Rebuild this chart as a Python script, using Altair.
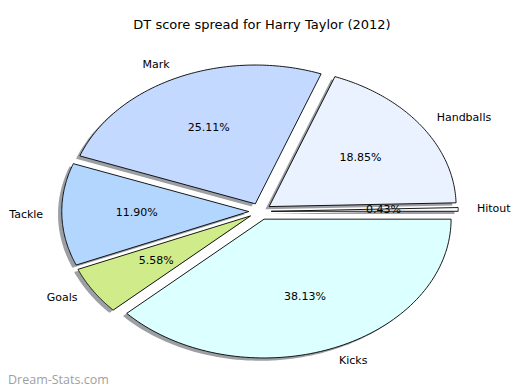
import altair as alt
import pandas as pd

# Data (counter-clockwise from 3 o'clock, as drawn)
categories = ["Hitout", "Handballs", "Mark", "Tackle", "Goals", "Kicks"]
shares = [0.43, 18.85, 25.11, 11.90, 5.58, 38.13]
colors = ["#ffffff", "#ebf2ff", "#c4d9ff", "#b3d6ff", "#cfeb8a", "#dcffff"]

TITLE = "DT score spread for Harry Taylor (2012)"
WATERMARK = "Dream-Stats.com"

EXPLODE = 0.06
NPTS = 90
W, H = 504, 382
XDOM = [-1.3476, 1.3476]
YDOM = [-1.2867, 1.4654]

df = pd.DataFrame({"cat": categories, "value": shares, "ord": list(range(len(categories)))})

xs = alt.Scale(domain=XDOM, nice=False, zero=False)
ys = alt.Scale(domain=YDOM, nice=False, zero=False)
noax = None

base = alt.Chart(df).transform_window(
    cum="sum(value)", sort=[alt.SortField("ord")], frame=[None, 0]
).transform_joinaggregate(total="sum(value)").transform_calculate(
    a0="2*PI*(datum.cum - datum.value)/datum.total",
    a1="2*PI*datum.cum/datum.total",
).transform_calculate(
    am="(datum.a0 + datum.a1)/2",
).transform_calculate(
    ox=f"{EXPLODE}*cos(datum.am)",
    oy=f"{EXPLODE}*sin(datum.am)",
    pct="format(datum.value, '.2f') + '%'",
)

poly = base.transform_calculate(
    idx=f"sequence(0, {NPTS + 2})"
).transform_flatten(["idx"]).transform_calculate(
    ang=f"datum.a0 + (datum.a1 - datum.a0)*(datum.idx - 1)/({NPTS} - 1)",
).transform_calculate(
    px=f"(datum.idx == 0 || datum.idx == {NPTS + 1}) ? datum.ox : datum.ox + cos(datum.ang)",
    py=f"(datum.idx == 0 || datum.idx == {NPTS + 1}) ? datum.oy : datum.oy + sin(datum.ang)",
).transform_calculate(
    sx="datum.px - 0.02",
    sy="datum.py - 0.02",
)

shadow = poly.mark_line(strokeWidth=0, interpolate="linear").encode(
    x=alt.X("sx:Q", scale=xs, axis=noax),
    y=alt.Y("sy:Q", scale=ys, axis=noax),
    order=alt.Order("idx:Q"),
    detail="cat:N",
    fill=alt.value("#3a3f47"),
    fillOpacity=alt.value(0.5),
)

wedges = poly.mark_line(stroke="black", strokeWidth=0.9, strokeJoin="miter").encode(
    x=alt.X("px:Q", scale=xs, axis=noax),
    y=alt.Y("py:Q", scale=ys, axis=noax),
    order=alt.Order("idx:Q"),
    detail="cat:N",
    fill=alt.Fill("cat:N", scale=alt.Scale(domain=categories, range=colors), legend=None),
    stroke=alt.value("black"),
)

lab = base.transform_calculate(
    lx="datum.ox + 1.1*cos(datum.am)",
    ly="datum.oy + 1.1*sin(datum.am)",
    tx="datum.ox + 0.6*cos(datum.am)",
    ty="datum.oy + 0.6*sin(datum.am)",
)

font = "DejaVu Sans"
lab_right = lab.transform_filter("datum.lx > 0").mark_text(
    align="left", baseline="middle", font=font, fontSize=11, color="black"
).encode(x=alt.X("lx:Q", scale=xs, axis=noax), y=alt.Y("ly:Q", scale=ys, axis=noax), text="cat:N")
lab_left = lab.transform_filter("datum.lx <= 0").mark_text(
    align="right", baseline="middle", font=font, fontSize=11, color="black"
).encode(x=alt.X("lx:Q", scale=xs, axis=noax), y=alt.Y("ly:Q", scale=ys, axis=noax), text="cat:N")
pcts = lab.mark_text(
    align="center", baseline="middle", font=font, fontSize=11, color="black"
).encode(x=alt.X("tx:Q", scale=xs, axis=noax), y=alt.Y("ty:Q", scale=ys, axis=noax), text="pct:N")

title = alt.Chart(pd.DataFrame({"t": [TITLE]})).mark_text(
    align="center", baseline="middle", font=font, fontSize=13, color="black"
).encode(x=alt.value(W / 2 + 2), y=alt.value(17), text="t:N")

wm = alt.Chart(pd.DataFrame({"t": [WATERMARK]})).mark_text(
    align="left", baseline="middle", font="Open Sans", fontSize=12.5, color="#a0a0a0"
).encode(x=alt.value(0), y=alt.value(372), text="t:N")

chart = alt.layer(shadow, wedges, lab_right, lab_left, pcts, title, wm).properties(
    width=W, height=H, autosize=alt.AutoSizeParams(type="none"), padding=0
).configure_view(stroke=None)

chart.save("out.html", embed_options={"renderer": "svg", "actions": False})
